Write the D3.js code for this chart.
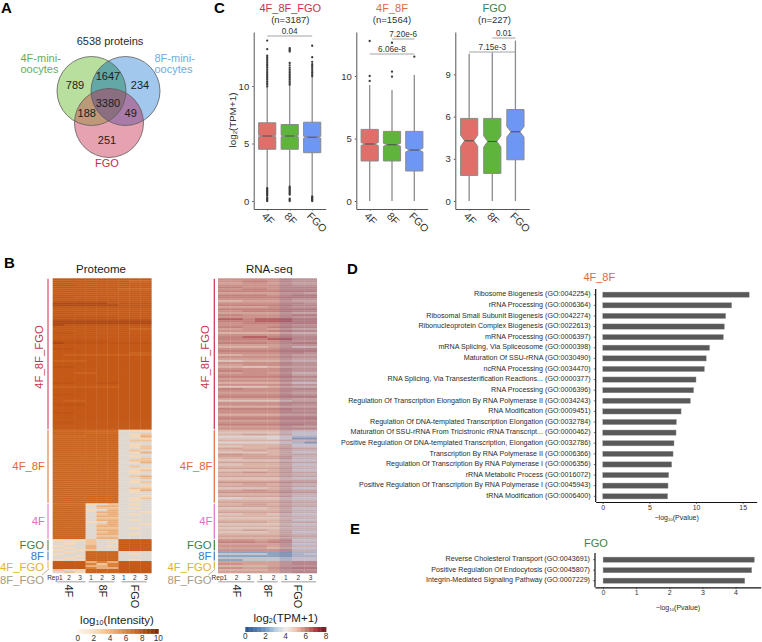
<!DOCTYPE html>
<html>
<head>
<meta charset="utf-8">
<script src="https://cdn.jsdelivr.net/npm/d3@7"></script>
<style>
  html, body { margin: 0; padding: 0; background: #fff; }
  svg { display: block; }
  text { font-family: "Liberation Sans", Arial, sans-serif; fill: #2b2b2b; }
</style>
</head>
<body>
<svg id="fig" width="762" height="642"></svg>
<script>
// ---- Panel A: protein overlap counts
const vennTotal = "6538 proteins";
const vennCounts = ["789", "1647", "234", "3380", "188", "49", "251"];

// ---- Panel B: section names and heatmap rows (one character per replicate, "-" = not detected)
const sectionNames = ["4F_8F_FGO", "4F_8F", "4F", "FGO", "8F", "4F_FGO", "8F_FGO"];
const sectionColors = ["#C8324C", "#E0693A", "#E36CC8", "#3F7F4A", "#3F78C8", "#E8B030", "#A89A85"];
const proteomeLevels = [1.5, 2.4, 3.4, 4.3, 6, 7.0, 7.2, 7.55, 7.75, 8.3];
const rnaLevels = [1.0, 2.2, 3.2, 3.9, 4.6, 5.1, 5.45, 5.75, 6.05, 6.7];
const proteomeCols = ["Rep1", "2", "3", "1", "2", "3", "1", "2", "3"];
const rnaCols = ["Rep1", "2", "3", "1", "2", "1", "2", "3"];
const sampleGroups = ["4F", "8F", "FGO"];

const proteomeAll = [
  "777777777","777777766","777777777","887777777","777777777","777777666","777777777","777777777","777777777","887777777",
  "777777777","888888777","999998888","999999888","888888888","777777777","777777777","887777777","777777777","888888777",
  "888888888","999999999","999999999","988888888","777777777","777777766","777777777","887777777","777777777","777777777",
  "777777777","888887777","988888888","777777777","777777777","887777777","777777777","777777766","766666666","777777777",
  "777777777","666777777","777777777","777777777","887777777","777777777","777777777","776677777","777777777","777777777",
  "777777777","777777777","887788777","777777777","666666777","777777777","777777777","777777777","887777777","777777777",
  "777777777","766777777","777777777","888777777","777777777","777777777","777777777","887777777","777777777","777777777",
  "777777777","777777777","887777777","777777777","777777777","777777777"
];
const proteome4F8F = [
  "555555-11","666555---","666666-12","555666-13","666666--1","666666-22","666666---","666666-1-","666666-12","666666--2",
  "666666-2-","666666-13","666666---","666666-1-","666666--2","666666-22","666666-13","666666---","666666-2-","666666--1",
  "666666-12","666666-1-","666666---","666666-23","666666--2","666666-1-","666666-12","666666---","666666--1","666666-22",
  "666666-13","666666-1-","666666---","666666--1","666666-12","666666-1-","666666---"
];
const proteome4F = [
  "5551-2-1-","666-33---","666-22-1-","6661-3---","666-33--1","666-23-1-","666-33---","666-22---","666-33-1-",
  "6661-3---","666-23--1","666-33---","666-22-1-","666-33---","666-23---","666-33-1-","666-22---","666-33---"
];
const proteomeFGO = ["1-12--777","-1-2-1777","-1-2--777","1--3-1777","-1-3--777","1-12--777"];
const proteome8F = ["-1-666---","1--666-1-","--1666---","-1-666---","1-1666-1-"];
const proteome4FFGO = ["777343777","777424777","777334777","777433777"];
const proteome8FFGO = ["2-1666777","-21666777"];

const rnaAll = [
  "77777766","77887766","66776655","77777766","88777777","77887777","88888888","66666665","88887788","88888888",
  "77777766","55666655","77777776","88888877","66667766","88888888","77888877","66666655","88777788","77777766",
  "99899988","88899988","77888888","77777766","88778877","66776655","77778877","55555544","77777766","88998877",
  "88889977","77777766","88887788","66666666","55556644","77777777","88888888","77777776","55666655","77777766",
  "66666655","44555544","77777766","66777766","55445555","77777766","88777766","66776644","77777755","88888877",
  "66666655","77777766","55555533","77777766","44445544","88777777","77777766","66666655","77777766","88888888",
  "66666655","44444455","77777777","77777766","55555555","88888877","77777766","77777777","55555555","77777777",
  "88888888","66666666","77777777","88888887","66666655","77777777"
];
const rna4F8F = [
  "55555544","44444433","55665533","33333322","44443311","55555544","33333321","55555533","44555533","66556655",
  "55665544","44445533","77665555","66666644","55666644","44444433","66666655","44555533","55555544","66666644",
  "44445533","66776655","55555544","66666655","44444433","55555555","77777766","55665544","66666655","44445533",
  "66776655","77777766","55555544","66666644","33444433","55555544","66666655"
];
const rna4F = [
  "55665544","66666655","44445533","55555544","66666644","44554433","55555544","44444444","55555533",
  "66665555","44444433","55555544","44444444","55665544","44445533","55555544","66666655","55555544"
];
const rnaFGO = ["77767733","88878744","66666633","77776644","66665533","77777744"];
const rna8F = ["11111122","22221123","11111122","22222233","11222233"];
const rna4FFGO = ["66666677","77666677","55556666","77667788"];
const rna8FFGO = ["55556666","66666677"];

// ---- Panel C: expression box plots, one list per gene set, ordered 4F, 8F, FGO
const boxCats = ["4F", "8F", "FGO"];
const boxColors = ["#E06F69", "#5FB43B", "#6E97F5"];
const setTitles = ["4F_8F_FGO", "4F_8F", "FGO"];
const setCounts = ["(n=3187)", "(n=1564)", "(n=227)"];
const q1Values = [[4.5, 4.5, 4.2], [3.2, 3.2, 2.4], [1.82, 1.96, 2.93]];
const medianValues = [[5.65, 5.65, 5.55], [4.56, 4.5, 4.08], [4.28, 4.23, 4.92]];
const q3Values = [[6.8, 6.65, 6.85], [5.73, 5.57, 5.57], [5.87, 5.87, 6.5]];
const notchHalf = [[0.07, 0.07, 0.08], [0.12, 0.12, 0.15], [0.4, 0.4, 0.38]];
const whiskerLow = [[1.2, 1.3, 0.45], [0, 0, 0], [0, 0, 0]];
const whiskerHigh = [[9.9, 10.0, 10.8], [9.28, 8.88, 10.08], [10.47, 10.55, 11.4]];
const outliers = [
  [
    [0, 0.1, 0.2, 0.3, 0.45, 0.55, 0.65, 0.75, 0.85, 0.95, 1.05, 1.12, 9.95, 10.1, 10.25, 10.4, 10.55, 10.7, 10.85, 11.0, 11.15, 11.3, 11.45, 11.6, 11.75, 11.9, 12.05, 12.2, 12.35, 12.5, 12.65, 13.2, 13.95],
    [0, 0.1, 0.2, 0.55, 0.65, 0.75, 0.85, 0.95, 1.05, 1.15, 1.25, 10.1, 10.25, 10.4, 10.55, 10.7, 10.85, 11.0, 11.15, 11.3, 11.45, 11.6, 11.8, 12.0, 13.0, 13.1, 13.2, 13.3],
    [0, 0.08, 0.16, 0.24, 0.32, 0.4, 10.85, 11.0, 11.15, 11.3, 11.45, 11.6, 11.75, 11.9, 12.1, 12.5, 13.5]
  ],
  [[10.0, 9.6, 12.8], [10.35, 9.95, 12.66], [11.55]],
  [[], [], []]
];
const boxBrackets = [
  [{ from: 0, to: 2, label: "0.04" }],
  [{ from: 1, to: 2, label: "7.20e-6" }, { from: 0, to: 2, label: "6.06e-8" }],
  [{ from: 1, to: 2, label: "0.01" }, { from: 0, to: 2, label: "7.15e-3" }]
];

// ---- Panels D and E: GO term enrichment
const termsD = [
  "Ribosome Biogenesis (GO:0042254)", "rRNA Processing (GO:0006364)", "Ribosomal Small Subunit Biogenesis (GO:0042274)",
  "Ribonucleoprotein Complex Biogenesis (GO:0022613)", "mRNA Processing (GO:0006397)", "mRNA Splicing, Via Spliceosome (GO:0000398)",
  "Maturation Of SSU-rRNA (GO:0030490)", "ncRNA Processing (GO:0034470)", "RNA Splicing, Via Transesterification Reactions... (GO:0000377)",
  "RNA Processing (GO:0006396)", "Regulation Of Transcription Elongation By RNA Polymerase II (GO:0034243)", "RNA Modification (GO:0009451)",
  "Regulation Of DNA-templated Transcription Elongation (GO:0032784)", "Maturation Of SSU-rRNA From Tricistronic rRNA Transcript... (GO:0000462)",
  "Positive Regulation Of DNA-templated Transcription, Elongation (GO:0032786)", "Transcription By RNA Polymerase II (GO:0006366)",
  "Regulation Of Transcription By RNA Polymerase I (GO:0006356)", "rRNA Metabolic Process (GO:0016072)",
  "Positive Regulation Of Transcription By RNA Polymerase I (GO:0045943)", "tRNA Modification (GO:0006400)"
];
const pvaluesD = [15.7, 13.82, 13.18, 13.04, 12.93, 11.46, 11.1, 10.9, 10.0, 9.75, 9.4, 8.4, 7.9, 7.86, 7.64, 7.54, 7.4, 7.07, 7.0, 6.96];
const termsE = ["Reverse Cholesterol Transport (GO:0043691)", "Positive Regulation Of Endocytosis (GO:0045807)", "Integrin-Mediated Signaling Pathway (GO:0007229)"];
const pvaluesE = [4.57, 4.49, 4.28];

const svg = d3.select("#fig");

function label(parent, x, y, str, opts = {}) {
  return parent.append("text")
    .attr("x", x).attr("y", y)
    .attr("dominant-baseline", "central")
    .attr("text-anchor", opts.anchor || "middle")
    .attr("font-size", opts.size || 9)
    .attr("font-weight", opts.weight || null)
    .style("fill", opts.color || null)
    .attr("transform", opts.rotate ? `rotate(${opts.rotate} ${x} ${y})` : null)
    .text(str);
}

// Writes "base", a subscript and "tail" as one text element.
function subLabel(parent, x, y, base, sub, tail, opts = {}) {
  const size = opts.size || 9;
  const t = label(parent, x, y, "", opts);
  t.append("tspan").text(base);
  t.append("tspan").attr("dy", size * 0.3).attr("font-size", size * 0.62).text(sub);
  t.append("tspan").attr("dy", -size * 0.3).text(tail);
  return t;
}

// Panel letters
[["A", 1, 13], ["C", 214, 13], ["B", 4, 268], ["D", 347, 274], ["E", 350, 534]].forEach(([s, x, y]) => {
  svg.append("text").attr("x", x).attr("y", y).attr("font-size", 15).attr("font-weight", "bold").style("fill", "#000").text(s);
});

// ---------- Venn diagram
(function () {
  const g = svg.append("g");
  const circles = [
    { id: "cGreen", cx: 91.5, cy: 91, r: 34.5, fill: "#B9DF9E" },
    { id: "cBlue", cx: 125.5, cy: 91, r: 34.5, fill: "#A2C8EE" },
    { id: "cPink", cx: 109, cy: 123, r: 34.5, fill: "#E6A2B1" }
  ];
  const defs = svg.append("defs");
  circles.forEach(c => {
    defs.append("clipPath").attr("id", c.id).append("circle").attr("cx", c.cx).attr("cy", c.cy).attr("r", c.r);
  });
  defs.append("clipPath").attr("id", "cGreenBlue").attr("clip-path", "url(#cGreen)")
    .append("circle").attr("cx", circles[1].cx).attr("cy", circles[1].cy).attr("r", circles[1].r);
  g.selectAll("circle.base").data(circles).join("circle").attr("class", "base")
    .attr("cx", d => d.cx).attr("cy", d => d.cy).attr("r", d => d.r).attr("fill", d => d.fill);
  const disc = (c, fill, clip) => g.append("g").attr("clip-path", `url(#${clip})`)
    .append("circle").attr("cx", c.cx).attr("cy", c.cy).attr("r", c.r).attr("fill", fill);
  disc(circles[1], "#63A8A6", "cGreen");
  disc(circles[2], "#BE9877", "cGreen");
  disc(circles[2], "#A87BA8", "cBlue");
  disc(circles[2], "#8B6F80", "cGreenBlue");
  g.selectAll("circle.edge").data(circles).join("circle").attr("class", "edge")
    .attr("cx", d => d.cx).attr("cy", d => d.cy).attr("r", d => d.r)
    .attr("fill", "none").attr("stroke", "#5c5c5c").attr("stroke-width", 0.8);

  label(g, 110, 41, vennTotal, { size: 11 });
  label(g, 20.5, 57.5, "4F-mini-", { size: 11, anchor: "start", color: "#62AE5C" });
  label(g, 20.5, 68.5, "oocytes", { size: 11, anchor: "start", color: "#62AE5C" });
  label(g, 154.5, 57.5, "8F-mini-", { size: 11, anchor: "start", color: "#6EABE2" });
  label(g, 154.5, 68.5, "oocytes", { size: 11, anchor: "start", color: "#6EABE2" });
  label(g, 107, 162.5, "FGO", { size: 11, color: "#C0304C" });
  const spots = [[75, 84.5], [108, 75.7], [140, 84.7], [108, 103], [86.7, 112.7], [130.7, 113], [107, 140]];
  vennCounts.forEach((v, i) => label(g, spots[i][0], spots[i][1], v, { size: 11, color: "#1c1c1c" }));
})();

// ---------- Heatmaps
const proteomeColor = d3.scaleLinear()
  .domain([0, 2, 4, 6, 7, 7.5, 8.5, 10])
  .range(["#FDF5E8", "#F7DFC2", "#EEB683", "#DC8038", "#CF6A22", "#C55A18", "#A9440F", "#6B2606"]);
const rnaColor = d3.scaleLinear()
  .domain([0, 2, 3, 4, 5, 6, 7, 8])
  .range(["#24508F", "#6F9AC5", "#B8CFE0", "#F2EDE8", "#EEC3AD", "#CC7A70", "#AE2F35", "#6A0A1F"]);

// RNA rows sit under a muted wash; the FGO replicates lean further towards mauve.
const rnaCell = (v, k) => k >= 5
  ? d3.interpolateRgb(rnaColor(v), "#8C7C9C")(0.42)
  : d3.interpolateRgb(rnaColor(v), "#B09AA0")(0.3);

function heatmap(cfg) {
  const g = svg.append("g");
  const rows = cfg.sections.flat();
  const xBand = d3.scaleBand().domain(d3.range(cfg.cols.length)).range([cfg.x0, cfg.x1]);
  const yBand = d3.scaleBand().domain(d3.range(rows.length)).range([278.3, 573]);

  const cells = rows.flatMap((row, r) => row.split("").map((c, k) => ({
    r, k, v: c === "-" ? null : cfg.levels[+c]
  })));
  g.selectAll("rect.cell").data(cells).join("rect").attr("class", "cell")
    .attr("x", d => xBand(d.k)).attr("y", d => yBand(d.r))
    .attr("width", xBand.bandwidth() + 0.3).attr("height", yBand.bandwidth() + 0.3)
    .attr("fill", d => d.v === null ? cfg.missing : cfg.color(d.v, d.k));

  label(g, cfg.titleX, 269, cfg.title, { size: 11.5, color: "#1c1c1c" });

  // Section rules and names down the left side
  let start = 0;
  cfg.sections.forEach((sec, i) => {
    const top = yBand(start), bot = yBand(start + sec.length - 1) + yBand.bandwidth();
    const name = sectionNames[i], col = sectionColors[i];
    if (i < 6) {
      g.append("line").attr("x1", cfg.barX).attr("x2", cfg.barX).attr("y1", top + 0.5).attr("y2", bot - 0.5)
        .attr("stroke", col).attr("stroke-width", cfg.barW).attr("opacity", cfg.barOpacity);
    } else {
      g.append("line").attr("x1", cfg.barX + 1).attr("x2", cfg.barX - 6).attr("y1", top).attr("y2", top + 6)
        .attr("stroke", col).attr("stroke-width", 0.8);
    }
    const mid = (top + bot) / 2;
    if (i === 0) {
      label(g, cfg.barX - 9, mid + 3, name, { size: 11.3, color: col, rotate: -90 });
    } else {
      const shift = i === 5 ? 1.7 : i === 6 ? 9 : 0;
      label(g, cfg.labelX - (i >= 3 ? 1 : 0), mid + shift, name, { size: 11.3, color: col, anchor: "end" });
    }
    start += sec.length;
  });

  // Replicate numbers, group rules and group names under the columns
  cfg.cols.forEach((s, k) => {
    const cx = xBand(k) + xBand.bandwidth() / 2;
    if (k === 0) label(g, cx + cfg.repShift, 577, s, { size: 6.5, anchor: "end", color: "#333" });
    else label(g, cx, 577, s, { size: 6.5, color: "#333" });
  });
  sampleGroups.forEach((name, i) => {
    const [a, b, il, ir] = cfg.groups[i];
    const xa = xBand(a) + il, xb = xBand(b) + xBand.bandwidth() - ir;
    g.append("line").attr("x1", xa).attr("x2", xb).attr("y1", 581.7).attr("y2", 581.7)
      .attr("stroke", "#BDBDBD").attr("stroke-width", 1.6);
    const cx = cfg.groupX[i];
    label(g, cx, 584.5, name, { size: 11, anchor: "start", rotate: 90, color: "#1c1c1c" });
  });
}

heatmap({
  title: "Proteome", titleX: 101, x0: 52.7, x1: 151.3, cols: proteomeCols, levels: proteomeLevels,
  color: v => proteomeColor(v), missing: "#DED7CF",
  sections: [proteomeAll, proteome4F8F, proteome4F, proteomeFGO, proteome8F, proteome4FFGO, proteome8FFGO],
  barX: 48, barW: 2, barOpacity: 0.5, labelX: 45, repShift: 4.5,
  groups: [[0, 2, 4.6, 0], [3, 5, 3, 4], [6, 8, 3, 4.6]], groupX: [69, 102.7, 135]
});
heatmap({
  title: "RNA-seq", titleX: 269.3, x0: 218, x1: 316.7, cols: rnaCols, levels: rnaLevels,
  color: rnaCell, missing: "#E0DAD2",
  sections: [rnaAll, rna4F8F, rna4F, rnaFGO, rna8F, rna4FFGO, rna8FFGO],
  barX: 214.3, barW: 1.2, barOpacity: 1, labelX: 212.5, repShift: 3,
  groups: [[0, 2, 0.3, 0.7], [3, 4, 2, 2], [5, 7, 1.5, 0.7]], groupX: [237.3, 267.7, 298.3]
});

// Colour bars
function colorBar(scale, domainMax, step, x0, x1, y0, h, labelY) {
  const g = svg.append("g");
  const x = d3.scaleLinear().domain([0, domainMax]).range([x0, x1]);
  const stops = d3.range(0, domainMax, domainMax / 100);
  g.selectAll("rect").data(stops).join("rect")
    .attr("x", d => x(d)).attr("y", y0)
    .attr("width", (x1 - x0) / 100 + 0.4).attr("height", h)
    .attr("fill", d => scale(d));
  d3.range(0, domainMax + 1, step).forEach(t => label(g, x(t), labelY, t, { size: 8.2, color: "#333" }));
}
colorBar(proteomeColor, 10, 2, 77.7, 158.3, 629, 4.8, 638);
colorBar(rnaColor, 8, 2, 245.3, 326, 627, 5, 636.5);
subLabel(svg, 117, 620, "log", "10", "(Intensity)", { size: 11.5, color: "#1c1c1c" });
subLabel(svg, 285.7, 618, "log", "2", "(TPM+1)", { size: 11.5, color: "#1c1c1c" });

// ---------- Box plots
const boxFrames = [
  { x0: 253.7, x1: 325.7, zero: 201, unit: 11.5, ticks: [0, 5, 10], titleX: 290.3, bracketY: [36], textY: [31.5] },
  { x0: 356.3, x1: 427.7, zero: 201, unit: 12.5, ticks: [0, 5, 10], titleX: 392, bracketY: [39, 54], textY: [34.5, 49.5] },
  { x0: 455.3, x1: 529.3, zero: 201, unit: 14.07, ticks: [0, 3, 6, 9], titleX: 494.5, bracketY: [38, 52], textY: [33, 47] }
];
boxFrames.forEach((f, p) => {
  const g = svg.append("g");
  const x = d3.scalePoint().domain(boxCats).range([f.x0, f.x1]).padding(0.6);
  const y = d3.scaleLinear().domain([(f.zero - 209) / f.unit, (f.zero - 32) / f.unit]).range([209, 32]);

  label(g, f.titleX, 8, setTitles[p], { size: 11, color: sectionColors[[0, 1, 3][p]] });
  label(g, f.titleX, 19.7, setCounts[p], { size: 9.5, color: "#333" });

  boxCats.forEach((cat, i) => {
    const cx = x(cat), w = 8.6, ind = 4;
    g.append("line").attr("x1", cx).attr("x2", cx)
      .attr("y1", y(whiskerLow[p][i])).attr("y2", y(whiskerHigh[p][i]))
      .attr("stroke", "#8c8c8c").attr("stroke-width", 1.3);
    g.selectAll(null).data(outliers[p][i]).join("circle")
      .attr("cx", cx).attr("cy", d => y(d)).attr("r", 1.15).attr("fill", "#3a3a3a");
    const q1 = y(q1Values[p][i]), q3 = y(q3Values[p][i]), m = y(medianValues[p][i]);
    const nT = y(medianValues[p][i] + notchHalf[p][i]), nB = y(medianValues[p][i] - notchHalf[p][i]);
    const path = d3.path();
    path.moveTo(cx - w, q1);
    path.lineTo(cx - w, nB); path.lineTo(cx - w + ind, m); path.lineTo(cx - w, nT);
    path.lineTo(cx - w, q3); path.lineTo(cx + w, q3);
    path.lineTo(cx + w, nT); path.lineTo(cx + w - ind, m); path.lineTo(cx + w, nB);
    path.lineTo(cx + w, q1); path.closePath();
    g.append("path").attr("d", path.toString()).attr("fill", boxColors[i])
      .attr("stroke", "#8a8a8a").attr("stroke-width", 1);
    g.append("line").attr("x1", cx - w + ind).attr("x2", cx + w - ind).attr("y1", m).attr("y2", m)
      .attr("stroke", "#4d4d4d").attr("stroke-width", 1);
  });

  const axisY = g.append("g").attr("transform", `translate(${f.x0},0)`)
    .call(d3.axisLeft(y).tickValues(f.ticks).tickFormat(d3.format("d")).tickSize(1.5).tickSizeOuter(0));
  const axisX = g.append("g").attr("transform", "translate(0,209)")
    .call(d3.axisBottom(x).tickSize(1.5).tickSizeOuter(0).tickFormat(""));
  [axisY, axisX].forEach(a => {
    a.select(".domain").attr("stroke", "#555").attr("stroke-width", 1);
    a.selectAll(".tick line").attr("stroke", "#555");
  });
  axisY.selectAll("text").attr("font-size", 9.5).attr("font-family", null).style("fill", "#333");

  boxCats.forEach(cat => {
    const tx = x(cat) - 3, ty = 214;
    label(g, tx, ty, cat, { size: 10.5, anchor: "start", rotate: 45, color: "#333" });
  });

  boxBrackets[p].forEach((b, k) => {
    const xa = x(boxCats[b.from]), xb = x(boxCats[b.to]);
    g.append("line").attr("x1", xa).attr("x2", xb).attr("y1", f.bracketY[k]).attr("y2", f.bracketY[k])
      .attr("stroke", "#8c8c8c").attr("stroke-width", 0.8);
    label(g, (xa + xb) / 2, f.textY[k], b.label, { size: 8.2, color: "#333" });
  });
});
subLabel(svg, 232, 120, "log", "2", "(TPM+1)", { size: 9.8, rotate: -90, color: "#333" });

// ---------- Enrichment bar charts
function enrichment(cfg) {
  const g = svg.append("g");
  const x = d3.scaleLinear().domain(cfg.domain).range([cfg.axisX, cfg.axisEnd]);
  const y = d3.scaleBand().domain(cfg.terms).range(cfg.bandRange).paddingInner(0.5).paddingOuter(0.25);

  label(g, cfg.titleX, cfg.titleY, cfg.title, { size: 11, color: cfg.titleColor });

  g.selectAll("rect").data(cfg.terms).join("rect")
    .attr("x", x(0)).attr("y", d => y(d))
    .attr("width", (d, i) => x(cfg.values[i]) - x(0))
    .attr("height", y.bandwidth())
    .attr("fill", "#595959").attr("stroke", "#a8a8a8").attr("stroke-width", 0.4);

  cfg.terms.forEach(t => {
    label(g, cfg.axisX - 5, y(t) + y.bandwidth() / 2 - 0.3, t, { size: 7.15, anchor: "end", color: "#2b2b2b" });
    g.append("line").attr("x1", cfg.axisX - 2).attr("x2", cfg.axisX)
      .attr("y1", y(t) + y.bandwidth() / 2).attr("y2", y(t) + y.bandwidth() / 2)
      .attr("stroke", "#222").attr("stroke-width", 0.6);
  });

  g.append("line").attr("x1", cfg.axisX).attr("x2", cfg.axisX).attr("y1", cfg.axisTop).attr("y2", cfg.axisBottom)
    .attr("stroke", "#111").attr("stroke-width", 1.2);
  const ax = g.append("g").attr("transform", `translate(0,${cfg.axisBottom})`)
    .call(d3.axisBottom(x).tickValues(cfg.ticks).tickFormat(d3.format("d")).tickSize(2).tickSizeOuter(0).tickPadding(1));
  ax.select(".domain").attr("stroke", "#111").attr("stroke-width", 1.2);
  ax.selectAll(".tick line").attr("stroke", "#222").attr("stroke-width", 0.6);
  ax.selectAll("text").attr("font-size", 7).attr("font-family", null).style("fill", "#333");

  subLabel(g, cfg.xLabelX, cfg.xLabelY, "\u2212log", "10", "(Pvalue)", { size: 7, color: "#2b2b2b" });
}
enrichment({
  title: "4F_8F", titleX: 599.3, titleY: 277, titleColor: "#E0693A",
  terms: termsD, values: pvaluesD, domain: [-0.75, 16.5], axisX: 595.7, axisEnd: 756.7,
  bandRange: [289.4, 501.6], axisTop: 289, axisBottom: 502, ticks: [0, 5, 10, 15],
  xLabelX: 676.7, xLabelY: 517
});
enrichment({
  title: "FGO", titleX: 596, titleY: 543, titleColor: "#3F7F4A",
  terms: termsE, values: pvaluesE, domain: [-0.243, 4.76], axisX: 595, axisEnd: 760.7,
  bandRange: [554.45, 585.95], axisTop: 553, axisBottom: 587.3, ticks: [0, 1, 2, 3, 4],
  xLabelX: 678, xLabelY: 606.7
});
</script>
</body>
</html>
